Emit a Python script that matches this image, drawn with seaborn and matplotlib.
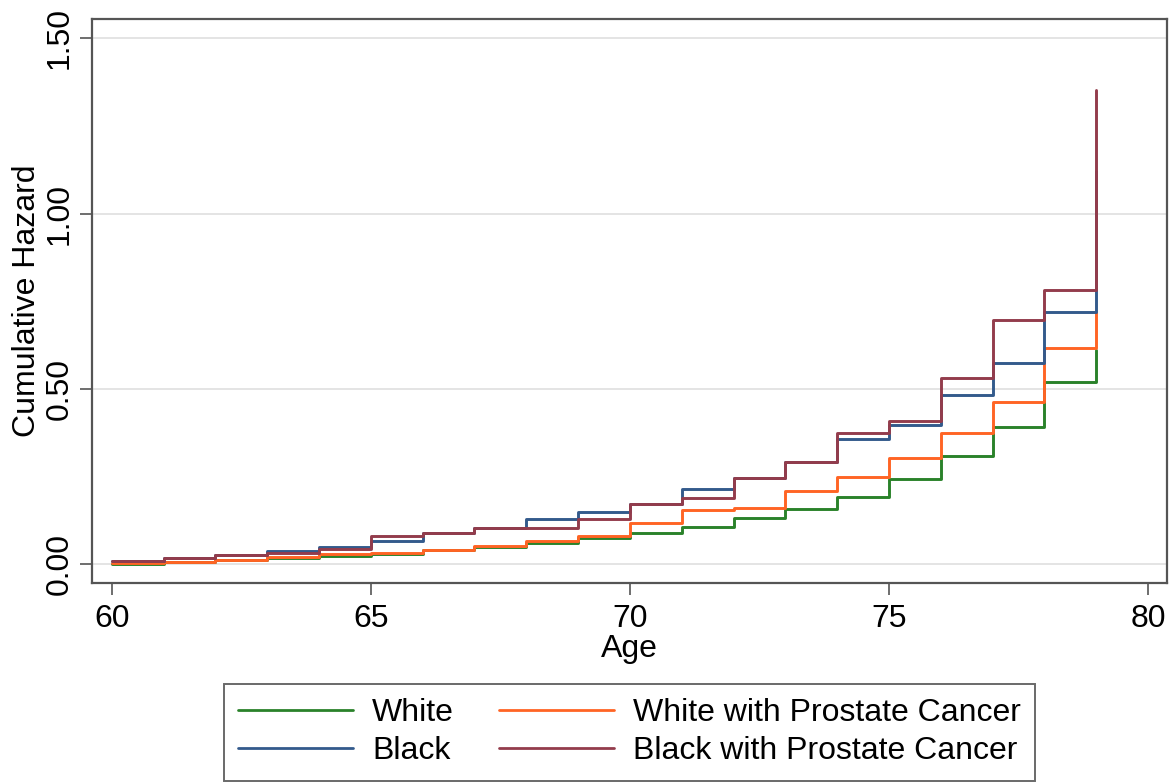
import numpy as np
import pandas as pd
import seaborn as sns
import matplotlib.pyplot as plt

# ------------------------------------------------
# ----- Datos ------------------------------------
# ------------------------------------------------
ages = list(range(60, 80))

white = [0.001, 0.005, 0.011, 0.017, 0.024, 0.030, 0.039, 0.050, 0.061, 0.075,
         0.090, 0.107, 0.132, 0.158, 0.190, 0.242, 0.308, 0.390, 0.518, 0.610]
white_pc = [0.002, 0.007, 0.013, 0.020, 0.028, 0.032, 0.040, 0.051, 0.066, 0.080,
            0.118, 0.154, 0.161, 0.209, 0.249, 0.302, 0.373, 0.461, 0.615, 0.720]
black = [0.008, 0.016, 0.025, 0.037, 0.049, 0.066, 0.088, 0.103, 0.130, 0.149,
         0.171, 0.214, 0.245, 0.291, 0.356, 0.397, 0.482, 0.573, 0.718, 1.120]
black_pc = [0.010, 0.018, 0.026, 0.032, 0.042, 0.079, 0.088, 0.102, 0.102, 0.128,
            0.171, 0.188, 0.245, 0.291, 0.375, 0.407, 0.532, 0.697, 0.782, 1.353]

groups = ['White', 'White with Prostate Cancer', 'Black', 'Black with Prostate Cancer']
colors = ['#2a822a', '#ff6424', '#335a8c', '#933c4c']

x_ticks = [60, 65, 70, 75, 80]
y_ticks = [0.0, 0.5, 1.0, 1.5]
y_tick_labels = ['0.00', '0.50', '1.00', '1.50']

df = pd.concat([pd.DataFrame({'Age': ages, 'Hazard': v, 'Group': g})
                for g, v in zip(groups, [white, white_pc, black, black_pc])],
               ignore_index=True)

# ------------------------------------------------
# ----- Estilo -----------------------------------
# ------------------------------------------------
sns.set_style('white')
plt.rcParams['font.family'] = ['Liberation Sans', 'DejaVu Sans']
plt.rcParams['text.color'] = 'black'
plt.rcParams['axes.labelcolor'] = 'black'
plt.rcParams['xtick.color'] = 'black'
plt.rcParams['ytick.color'] = 'black'
edge = '#555555'
fs = 23

fig = plt.figure(figsize=(11.72, 7.84), dpi=100)
ax = fig.add_axes([0.0788, 0.2568, 0.9167, 0.7186])

sns.lineplot(data=df, x='Age', y='Hazard', hue='Group', hue_order=groups,
             palette=dict(zip(groups, colors)), drawstyle='steps-post',
             linewidth=2.1, estimator=None, ax=ax, legend=True)

ax.set_xlim(59.625, 80.36)
ax.set_ylim(-0.053, 1.554)
ax.set_xticks(x_ticks)
ax.set_yticks(y_ticks)
ax.set_yticklabels(y_tick_labels)
ax.yaxis.grid(True, color='#e2e2e2', linewidth=1.3)
ax.xaxis.grid(False)
ax.set_axisbelow(True)

for s in ax.spines.values():
    s.set_visible(True)
    s.set_color(edge)
    s.set_linewidth(1.6)

ax.tick_params(axis='both', direction='out', length=8.5, width=1.2, color=edge,
               labelcolor='black', labelsize=fs, left=True, bottom=True)
ax.tick_params(axis='x', pad=7)
ax.tick_params(axis='y', labelrotation=90, pad=4)
for lbl in ax.get_yticklabels():
    lbl.set_va('center')

ax.set_xlabel('Age', fontsize=fs, labelpad=0, color='black')
ax.set_ylabel('Cumulative Hazard', fontsize=fs, labelpad=2, color='black')

# ------------------------------------------------
# ----- Leyenda ----------------------------------
# ------------------------------------------------
handles, labels = ax.get_legend_handles_labels()
ax.get_legend().remove()
order = [0, 2, 1, 3]
leg = fig.legend([handles[i] for i in order], [labels[i] for i in order],
                 ncol=2, loc='upper center', bbox_to_anchor=(0.537, 0.1276),
                 fontsize=fs, frameon=True, fancybox=False, edgecolor='#444444',
                 handlelength=3.6, handletextpad=0.6, columnspacing=1.4,
                 borderpad=0.45, labelspacing=0.25, borderaxespad=0)
leg.get_frame().set_linewidth(1.4)
for h in leg.legend_handles:
    h.set_linewidth(2.0)
for t in leg.get_texts():
    t.set_color('black')

fig.savefig('out.png', dpi=100)
